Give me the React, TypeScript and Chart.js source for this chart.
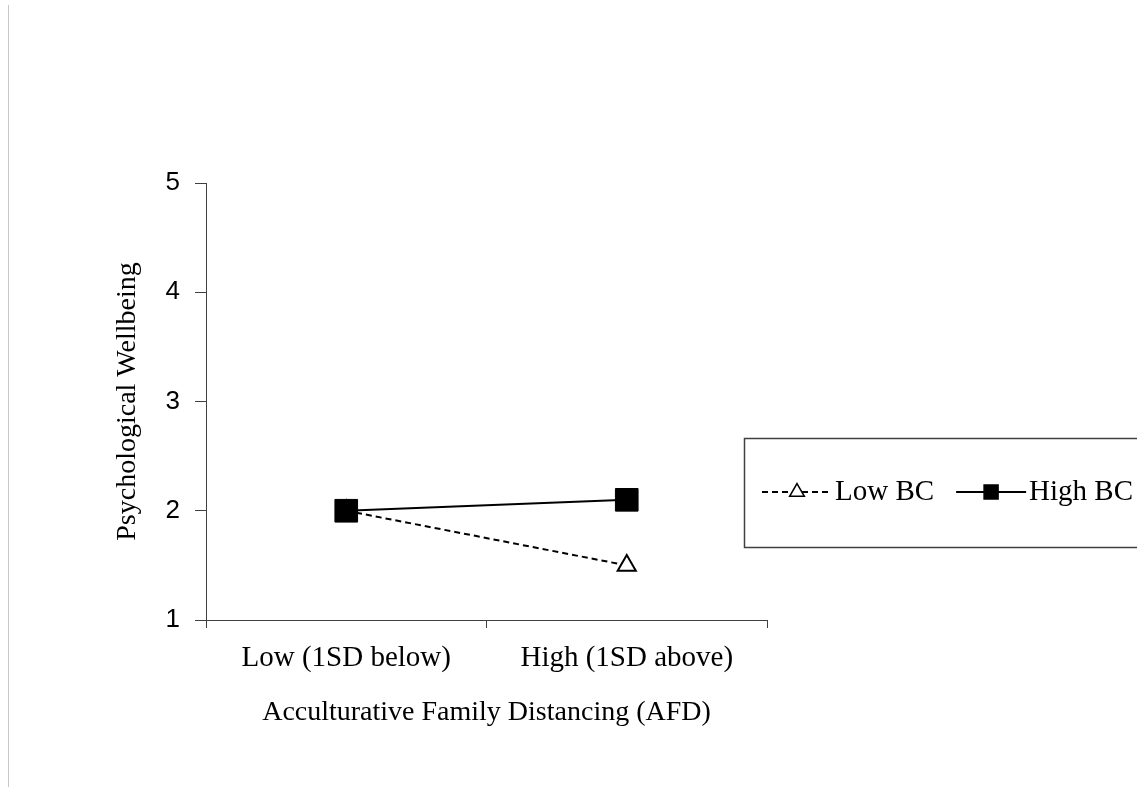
import React, { useEffect, useRef } from 'react';
import Chart from 'chart.js/auto';

// data
const categories = ['Low (1SD below)', 'High (1SD above)'];
const seriesNames = ['Low BC', 'High BC'];
const lowBC = [2.0, 1.5];
const highBC = [2.0, 2.1];
const yTicks = [1, 2, 3, 4, 5];
const xTitle = 'Acculturative Family Distancing (AFD)';
const yTitle = 'Psychological Wellbeing';

const SERIF = '"Liberation Serif", "Times New Roman", serif';
const SANS = '"Liberation Sans", Arial, sans-serif';
const AXIS = '#404040';

// legend drawn as a boxed row, like the original spreadsheet chart
const boxLegend = {
  id: 'boxLegend',
  afterDraw(chart: any) {
    const ctx = chart.ctx as CanvasRenderingContext2D;
    const left = 744;
    const top = 438.5;
    const height = 109;
    const cy = top + height / 2 - 1;

    ctx.save();
    ctx.strokeStyle = AXIS;
    ctx.lineWidth = 1.5;
    ctx.strokeRect(left + 0.5, top, chart.width - left + 10, height);

    ctx.font = `29px ${SERIF}`;
    ctx.textBaseline = 'middle';
    ctx.textAlign = 'left';

    let x = 762;
    chart.data.datasets.forEach((ds: any) => {
      const sw = 70;
      ctx.beginPath();
      ctx.setLineDash(ds.borderDash || []);
      ctx.lineWidth = 2;
      ctx.strokeStyle = ds.borderColor;
      ctx.moveTo(x, cy);
      ctx.lineTo(x + sw, cy);
      ctx.stroke();
      ctx.setLineDash([]);

      const mx = x + sw / 2;
      ctx.beginPath();
      if (ds.pointStyle === 'triangle') {
        const r = 8.5;
        ctx.moveTo(mx, cy - r);
        ctx.lineTo(mx + r * 0.866, cy + r / 2);
        ctx.lineTo(mx - r * 0.866, cy + r / 2);
        ctx.closePath();
      } else {
        ctx.rect(mx - 7, cy - 7, 14, 14);
      }
      ctx.fillStyle = ds.pointBackgroundColor;
      ctx.fill();
      ctx.lineWidth = 1.5;
      ctx.strokeStyle = ds.pointBorderColor;
      ctx.stroke();

      ctx.fillStyle = '#000';
      ctx.fillText(ds.label, x + sw + 3, cy);
      x += sw + 3 + ctx.measureText(ds.label).width + 22;
    });
    ctx.restore();
  },
};

export default function App() {
  const canvasRef = useRef<HTMLCanvasElement>(null);
  const chartRef = useRef<Chart | null>(null);

  useEffect(() => {
    if (!canvasRef.current) return;
    if (chartRef.current) chartRef.current.destroy();

    chartRef.current = new Chart(canvasRef.current, {
      type: 'line',
      data: {
        labels: categories,
        datasets: [
          {
            label: seriesNames[0],
            data: lowBC,
            borderColor: '#000',
            borderWidth: 2,
            borderDash: [6, 4],
            pointStyle: 'triangle',
            pointRadius: 10.5,
            pointBackgroundColor: '#fff',
            pointBorderColor: '#000',
            pointBorderWidth: 2,
            fill: false,
            tension: 0,
            order: 2,
          },
          {
            label: seriesNames[1],
            data: highBC,
            borderColor: '#000',
            borderWidth: 2,
            pointStyle: 'rect',
            pointRadius: 16,
            pointBackgroundColor: '#000',
            pointBorderColor: '#000',
            pointBorderWidth: 1,
            fill: false,
            tension: 0,
            order: 1,
          },
        ],
      },
      options: {
        animation: false,
        responsive: true,
        maintainAspectRatio: false,
        layout: { padding: { left: 111, top: 183, right: 370, bottom: 58 } },
        plugins: {
          legend: { display: false },
          tooltip: { enabled: false },
        },
        scales: {
          x: {
            offset: true,
            grid: {
              display: true,
              offset: true,
              drawOnChartArea: false,
              drawTicks: true,
              tickLength: 8,
              color: AXIS,
            },
            border: { color: AXIS, width: 1 },
            ticks: {
              color: '#000',
              font: { family: SERIF, size: 29 },
              padding: 13,
              maxRotation: 0,
            },
            title: {
              display: true,
              text: xTitle,
              color: '#000',
              font: { family: SERIF, size: 28 },
              padding: 0,
            },
            afterFit: (s: any) => {
              s.height = 109;
            },
          },
          y: {
            min: yTicks[0],
            max: yTicks[yTicks.length - 1],
            afterBuildTicks: (s: any) => {
              s.ticks = yTicks.map((v) => ({ value: v }));
            },
            grid: {
              drawOnChartArea: false,
              drawTicks: true,
              tickLength: 11,
              color: AXIS,
            },
            border: { color: AXIS, width: 1 },
            ticks: {
              color: '#000',
              font: { family: SANS, size: 26 },
              padding: 15,
            },
            title: {
              display: true,
              text: yTitle,
              color: '#000',
              font: { family: SERIF, size: 28 },
              padding: 0,
            },
            afterFit: (s: any) => {
              s.width = 95;
            },
          },
        },
      },
      plugins: [boxLegend],
    });

    return () => {
      if (chartRef.current) {
        chartRef.current.destroy();
        chartRef.current = null;
      }
    };
  }, []);

  return (
    <div style={{ position: 'absolute', left: 0, top: 0, width: 1137, height: 787, background: '#fff' }}>
      <div style={{ position: 'absolute', left: 8, top: 5, width: 1, height: 782, background: '#c8c8c8' }} />
      <div style={{ position: 'absolute', left: 0, top: 0, width: 1137, height: 787 }}>
        <canvas ref={canvasRef} />
      </div>
    </div>
  );
}
